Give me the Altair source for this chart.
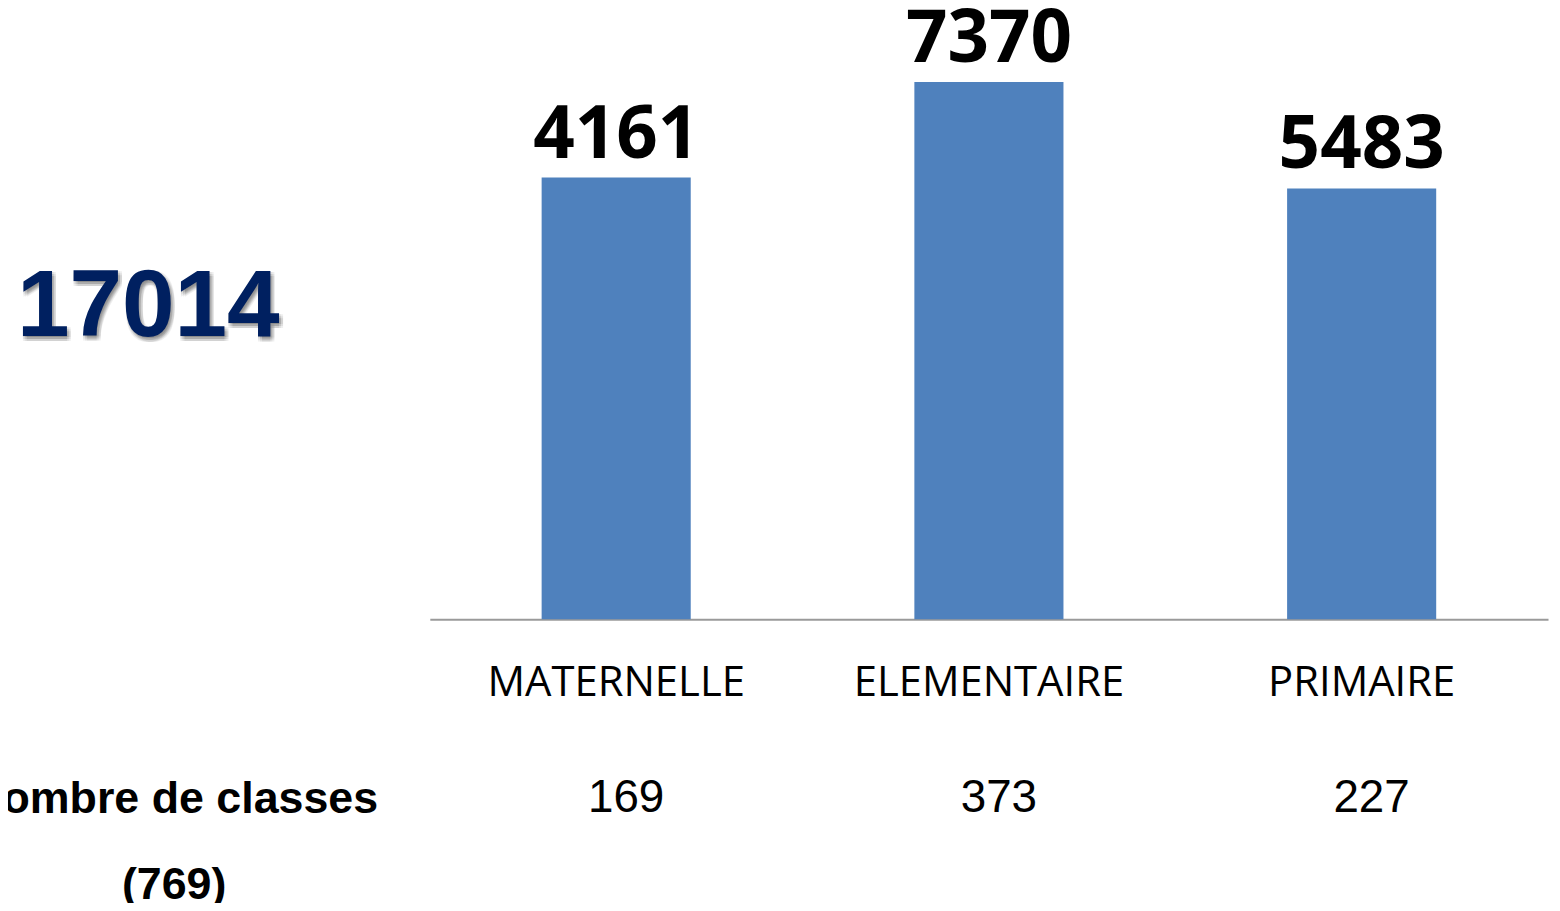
import altair as alt
import pandas as pd

# ---- data ----
categories = ["MATERNELLE", "ELEMENTAIRE", "PRIMAIRE"]
effectifs = [4161, 7370, 5483]          # numbers printed above the bars
bar_lengths = [6060, 7370, 5910]        # bar heights as drawn (same units as 7370)
classes = [169, 373, 227]               # "Nombre de classes" row
total_eleves = [17014]
total_classes = [769]

df = pd.DataFrame({
    "cat": categories,
    "effectif": effectifs,
    "bar": bar_lengths,
    "classes": classes,
})

x = alt.X(
    "cat:N",
    sort=categories,
    scale=alt.Scale(paddingInner=0.6, paddingOuter=0.3),
    axis=alt.Axis(title=None, labels=False, ticks=False, grid=False,
                  domain=True, domainColor="#9a9a9a", domainWidth=2),
)
y = alt.Y("bar:Q", scale=alt.Scale(domain=[0, 8353], nice=False, zero=True), axis=None)

base = alt.Chart(df)

bars = base.mark_bar(color="#4F81BD").encode(x=x, y=y)

bar_labels = base.mark_text(
    font="Open Sans", fontWeight="bold", fontSize=73, color="#000000",
    baseline="alphabetic", align="center", dy=-20,
).encode(x=x, y=y, text=alt.Text("effectif:Q", format="d"))

cat_labels = base.mark_text(
    font="Open Sans", fontSize=42, color="#000000",
    baseline="alphabetic", align="center",
).encode(x=x, y=alt.value(689), text="cat:N")

class_labels = base.mark_text(
    font="Liberation Sans", fontSize=46, color="#000000",
    baseline="alphabetic", align="center", dx=10,
).encode(x=x, y=alt.value(806), text=alt.Text("classes:Q", format="d"))

# ---- big total on the left, with a soft drop shadow ----
tot_df = pd.DataFrame({"total": total_eleves})
shadow_layers = []
for sdx in (0, 2, 4):
    for sdy in (1, 3, 5):
        shadow_layers.append(
            alt.Chart(tot_df).mark_text(
                font="Liberation Sans", fontWeight="bold", fontSize=95,
                color="#000000", opacity=0.06, baseline="alphabetic",
                align="center", dx=sdx, dy=sdy,
            ).encode(x=alt.value(-283), y=alt.value(327),
                     text=alt.Text("total:Q", format="d"))
        )
total_text = alt.Chart(tot_df).mark_text(
    font="Liberation Sans", fontWeight="bold", fontSize=95, color="#002060",
    baseline="alphabetic", align="center",
).encode(x=alt.value(-283), y=alt.value(327), text=alt.Text("total:Q", format="d"))

cls_df = pd.DataFrame({"t": [f"Nombre de classes\n({total_classes[0]})"]})
classes_title = alt.Chart(cls_df).mark_text(
    font="Liberation Sans", fontWeight="bold", fontSize=45, color="#000000",
    baseline="alphabetic", align="center", lineBreak="\n", lineHeight=86,
).encode(x=alt.value(-257), y=alt.value(807), text="t:N")

chart = alt.layer(
    bars, bar_labels, cat_labels, class_labels,
    *shadow_layers, total_text, classes_title,
).properties(
    width=1124,
    height=612,
    padding={"left": 424, "top": 0, "right": 4, "bottom": 283},
    autosize=alt.AutoSizeParams(type="none"),
    background="#ffffff",
).configure_view(strokeWidth=0)

chart.save("out.html", embed_options={"renderer": "svg", "actions": False})
